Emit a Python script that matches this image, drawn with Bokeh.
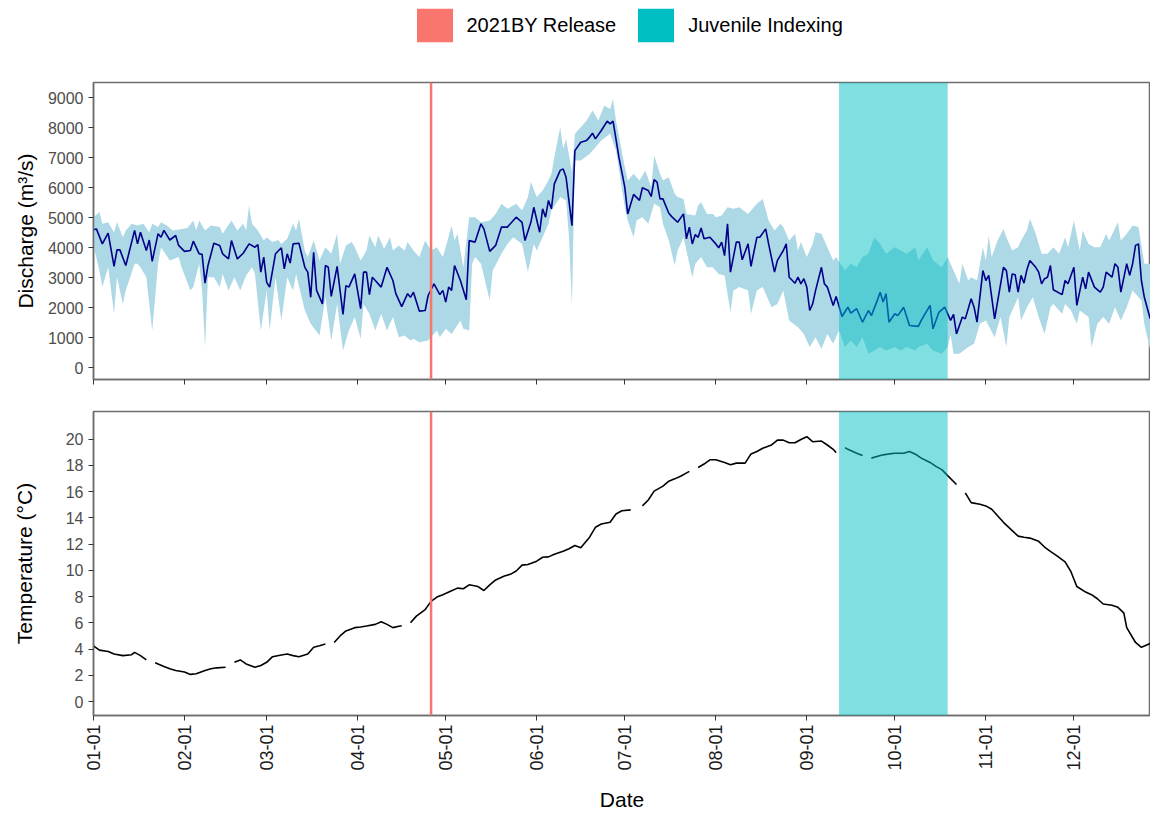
import numpy as np
import pandas as pd
from bokeh.plotting import figure
from bokeh.layouts import column
from bokeh.models import (Range1d, FixedTicker, DatetimeTickFormatter, Span,
                          BoxAnnotation, Legend, LegendItem)
from bokeh.embed import file_html
from bokeh.resources import INLINE

# ---------------- data ----------------
YEAR_START = "2022-01-01"
month_ticks = ["01-01", "02-01", "03-01", "04-01", "05-01", "06-01",
               "07-01", "08-01", "09-01", "10-01", "11-01", "12-01"]
release_date = "04-26"
index_start = "09-12"
index_end = "10-19"
legend_labels = ["2021BY Release", "Juvenile Indexing"]

# mean discharge (day of year offset from Jan 1, m3/s)
q_mean_day = [0, 1, 3, 5, 7, 8, 9, 11, 14, 15, 16, 18, 19, 20, 22, 23, 24, 26, 28, 29, 31, 33, 34, 36, 37, 38, 39,
              41, 43, 44, 46, 47, 49, 51, 53, 55, 56, 57, 58, 59, 60, 62, 64, 65, 66, 67, 68, 70, 72, 73, 74, 75,
              76, 78, 79, 80, 81, 83, 85, 86, 87, 89, 91, 92, 93, 94, 95, 96, 98, 100, 102, 103, 105, 107, 108,
              109, 111, 113, 114, 116, 118, 119, 120, 121, 122, 123, 125, 127, 128, 130, 132, 133, 135, 137, 139,
              141, 144, 146, 147, 149, 150, 152, 153, 154, 155, 156, 157, 159, 160, 161, 163, 164, 166, 168, 169,
              170, 171, 173, 175, 176, 177, 179, 181, 182, 184, 186, 187, 189, 190, 191, 192, 193, 194, 196, 197,
              199, 201, 202, 203, 204, 205, 206, 207, 208, 210, 212, 213, 214, 215, 216, 217, 219, 220, 221, 223,
              224, 226, 227, 229, 230, 232, 233, 235, 236, 237, 239, 240, 241, 242, 243, 244, 245, 246, 248, 249,
              250, 252, 253, 255, 257, 258, 260, 262, 264, 265, 267, 268, 269, 270, 271, 273, 274, 276, 278, 281,
              282, 285, 286, 288, 290, 292, 293, 294, 296, 297, 299, 300, 301, 303, 304, 305, 307, 310, 311, 312,
              313, 314, 315, 316, 317, 318, 319, 321, 322, 323, 324, 325, 326, 327, 330, 331, 332, 334, 335, 337,
              338, 339, 341, 343, 344, 345, 347, 348, 349, 350, 352, 353, 354, 355, 356, 357, 358, 360]
q_mean = [4590, 4620, 4120, 4480, 3370, 3920, 3920, 3400, 4570, 4120, 4510, 3900, 4250, 3540, 4460, 4340, 4570,
          4250, 4400, 4070, 3870, 3900, 4210, 3790, 3770, 2810, 3400, 4140, 4070, 3790, 3620, 4230, 3620, 3810,
          4120, 4010, 4100, 3180, 3680, 2840, 2680, 3790, 3990, 3290, 3790, 3480, 4120, 4140, 3340, 3180, 2340,
          3840, 2570, 2120, 3400, 3340, 2370, 3370, 1770, 2730, 2680, 3120, 1960, 3180, 3180, 2430, 3010, 2900,
          2680, 3340, 2900, 2460, 2030, 2460, 2340, 2510, 1880, 1900, 2400, 2790, 2430, 2570, 2180, 2680, 2570,
          3400, 2900, 2260, 4230, 4180, 4790, 4620, 3870, 4070, 4680, 4680, 5010, 4840, 4230, 4840, 5340, 4510,
          5290, 5010, 5570, 5290, 6120, 6570, 6620, 6340, 4730, 7230, 7510, 7570, 7680, 7810, 7620, 7900, 8210,
          8120, 8210, 7010, 6010, 5120, 5770, 5570, 5990, 5900, 5700, 6260, 6180, 5620, 5620, 5140, 5030, 4840,
          5120, 4290, 4680, 4120, 4430, 4340, 4650, 4290, 4340, 4120, 3990, 4180, 3730, 4790, 3180, 4180, 4180,
          3590, 4120, 3370, 4340, 4340, 4620, 4120, 3180, 3570, 3900, 4120, 3010, 2810, 3010, 2790, 2960, 2680,
          1900, 2120, 2570, 3340, 2790, 2680, 2070, 2370, 1700, 2010, 1810, 1960, 1510, 1900, 1730, 2230, 2510,
          2180, 2460, 1510, 1790, 1730, 2010, 1400, 1370, 1570, 2070, 1290, 1840, 2010, 1570, 1770, 1120, 1680,
          1620, 2290, 2010, 1510, 3230, 2900, 3070, 1620, 3340, 3230, 2510, 3120, 3090, 2510, 3070, 2810, 3260,
          3570, 3340, 3180, 2790, 2960, 3010, 3400, 2590, 2430, 2900, 2790, 3340, 2070, 3010, 2620, 3180, 2680,
          2510, 2680, 3180, 3010, 3460, 3340, 2510, 3460, 3070, 3460, 4070, 4120, 2900, 2340, 1620]

# upper edge of discharge band
q_hi_day = [0, 2, 3, 5, 7, 8, 10, 11, 13, 15, 17, 19, 20, 22, 23, 25, 27, 30, 32, 34, 35, 36, 38, 40, 43, 44, 47,
            49, 51, 52, 53, 54, 56, 58, 59, 61, 63, 64, 66, 68, 69, 70, 72, 73, 75, 77, 79, 81, 83, 84, 86, 88, 89,
            91, 93, 94, 96, 97, 99, 101, 102, 104, 106, 107, 109, 111, 113, 115, 117, 119, 120, 122, 123, 124, 126,
            128, 130, 132, 135, 137, 139, 141, 144, 146, 148, 149, 151, 153, 155, 156, 157, 159, 160, 161, 163,
            164, 166, 168, 170, 172, 174, 176, 177, 178, 181, 182, 184, 186, 188, 190, 191, 193, 194, 196, 198,
            199, 201, 202, 205, 206, 207, 209, 211, 212, 214, 216, 218, 220, 223, 224, 226, 228, 230, 232, 234,
            235, 237, 239, 240, 241, 243, 245, 246, 248, 250, 252, 253, 256, 258, 260, 262, 264, 266, 268, 270,
            273, 275, 277, 280, 281, 284, 286, 289, 291, 293, 295, 296, 298, 299, 301, 303, 304, 305, 306, 308,
            310, 311, 313, 315, 316, 318, 319, 321, 323, 325, 327, 329, 331, 332, 334, 336, 337, 339, 341, 343,
            345, 346, 349, 350, 352, 354, 356, 358, 360]
q_hi = [5010, 5180, 4790, 4840, 4510, 4840, 4340, 4570, 4790, 4730, 4790, 4510, 4790, 4680, 4840, 4730, 4570, 4620,
        4650, 4900, 4570, 4900, 4570, 4730, 4680, 4460, 4900, 4570, 4790, 4570, 5400, 4790, 4570, 4230, 4340, 4180,
        4250, 4120, 4290, 4790, 4570, 4960, 3900, 3680, 4230, 3570, 4010, 3790, 4460, 3460, 4070, 4180, 4010, 3570,
        3900, 4400, 4010, 4400, 3960, 4340, 3900, 4070, 3900, 4180, 3900, 3680, 4230, 3900, 4010, 3680, 4010, 4730,
        4230, 4460, 3340, 5010, 5010, 4840, 4900, 5120, 5460, 5290, 5460, 5230, 5680, 6180, 5680, 5900, 6230, 6460,
        7010, 8010, 7290, 7620, 6510, 7790, 8010, 8230, 8570, 8230, 8730, 8620, 8950, 8230, 6680, 6230, 6460, 6230,
        6570, 6010, 7070, 6460, 6230, 6340, 5790, 5680, 5620, 5120, 5070, 5400, 5510, 5120, 5120, 5010, 5070, 5340,
        5290, 5340, 5120, 5230, 5460, 5620, 4900, 4570, 4790, 4680, 4230, 4460, 3900, 4180, 3680, 4120, 4510, 4460,
        4010, 3570, 3680, 3230, 3460, 3340, 3680, 3790, 4340, 4120, 3790, 4010, 3900, 3790, 4010, 3570, 4010, 3570,
        3340, 3680, 3230, 2790, 3460, 2900, 3010, 2900, 4010, 3570, 4400, 3680, 4230, 4620, 4340, 3900, 4010, 4230,
        4570, 4960, 4460, 3790, 3790, 4010, 3790, 4340, 4010, 4900, 3900, 4570, 4120, 4010, 4010, 4460, 4230, 4840,
        4230, 4460, 4730, 4680, 3460, 3460]

# lower edge of discharge band
q_lo_day = [0, 2, 3, 5, 7, 8, 10, 11, 14, 15, 16, 18, 20, 22, 23, 26, 29, 30, 33, 34, 36, 37, 38, 39, 41, 43, 44,
            46, 48, 50, 52, 54, 55, 57, 59, 60, 62, 64, 66, 68, 69, 72, 74, 77, 79, 81, 83, 85, 87, 89, 91, 92, 94,
            96, 98, 100, 102, 104, 106, 108, 109, 111, 114, 117, 118, 120, 122, 125, 126, 128, 129, 130, 132, 135,
            136, 139, 141, 143, 146, 148, 150, 151, 153, 155, 156, 159, 161, 162, 163, 164, 166, 169, 171, 173,
            176, 178, 181, 182, 184, 185, 187, 189, 191, 193, 194, 196, 198, 199, 201, 202, 204, 205, 207, 209,
            211, 213, 215, 217, 218, 220, 223, 224, 226, 228, 231, 233, 235, 237, 240, 242, 244, 246, 248, 250,
            252, 254, 256, 258, 260, 262, 264, 266, 268, 270, 273, 275, 277, 280, 281, 284, 286, 289, 291, 292,
            293, 295, 298, 300, 302, 304, 307, 309, 311, 312, 315, 316, 318, 320, 322, 324, 326, 327, 330, 331,
            333, 335, 336, 339, 340, 342, 344, 346, 348, 350, 352, 354, 357, 358, 360]
q_lo = [4070, 3230, 2680, 3340, 1790, 3010, 2120, 2570, 3460, 3460, 3340, 3010, 1230, 3460, 4010, 3570, 3680, 3340,
        2570, 2680, 3460, 2570, 680, 3010, 3010, 2680, 3120, 2570, 3010, 2570, 3070, 3340, 3120, 1230, 2570, 1230,
        3010, 1570, 3010, 2570, 3120, 1900, 1460, 1070, 2340, 900, 2120, 570, 1230, 1680, 960, 2120, 1790, 1230,
        1790, 1230, 1680, 1010, 1070, 900, 960, 840, 900, 1230, 1010, 1290, 1120, 1570, 1290, 1230, 3460, 3680,
        3460, 2230, 3230, 3790, 4120, 4340, 4120, 3180, 4120, 3900, 4340, 4790, 5230, 5680, 5570, 4340, 2070, 6900,
        6900, 7120, 7340, 7570, 7790, 7230, 5340, 4900, 4340, 4900, 5010, 4790, 5460, 5340, 4790, 4230, 3400, 3900,
        4340, 3900, 3010, 3460, 3680, 3340, 3340, 3120, 3070, 1840, 2570, 2680, 2570, 1790, 2570, 2680, 2010, 2120,
        2570, 1570, 1340, 1120, 680, 1010, 620, 1120, 790, 1230, 680, 900, 680, 1010, 460, 570, 680, 570, 680, 570,
        680, 570, 680, 790, 570, 460, 680, 1100, 460, 460, 680, 790, 1460, 1570, 1010, 1680, 680, 1680, 2340, 1570,
        2010, 2340, 1680, 1120, 2010, 2120, 1790, 2120, 1900, 1460, 1900, 1680, 680, 1460, 1680, 1460, 2010, 1570,
        2010, 2570, 2230, 1460, 570]

# water temperature (NaN = missing record)
nan = float("nan")
t_day = [0, 2, 5, 7, 10, 13, 14, 16, 18, 20, 21, 24, 26, 28, 31, 33, 35, 38, 40, 42, 45, 46, 48, 50, 52, 55, 57,
         59, 61, 64, 66, 68, 70, 73, 75, 77, 79, 80, 82, 84, 86, 89, 91, 93, 96, 98, 100, 102, 104, 105, 106, 108,
         110, 113, 115, 117, 119, 122, 124, 126, 128, 131, 133, 135, 137, 140, 142, 144, 146, 148, 151, 153, 155,
         157, 160, 162, 164, 166, 169, 171, 173, 176, 178, 180, 183, 184, 187, 189, 191, 194, 196, 198, 200, 203,
         204, 206, 208, 210, 212, 215, 217, 219, 222, 224, 226, 228, 231, 233, 235, 237, 239, 241, 243, 245, 248,
         250, 252, 253, 254, 256, 257, 260, 262, 263, 265, 266, 269, 271, 273, 276, 278, 280, 282, 285, 287, 289,
         291, 294, 295, 297, 299, 302, 304, 306, 309, 310, 313, 315, 317, 319, 322, 324, 326, 328, 331, 333, 335,
         338, 340, 342, 344, 347, 349, 351, 352, 355, 357, 359, 360]
t_val = [4.26, 3.93, 3.83, 3.63, 3.51, 3.58, 3.76, 3.51, 3.18, nan, 2.96, 2.68, 2.51, 2.38, 2.26, 2.08, 2.13, 2.38,
         2.51, 2.58, 2.63, nan, 3.0, 3.18, 2.88, 2.63, 2.76, 3.0, 3.43, 3.56, 3.63, 3.51, 3.43, 3.63, 4.14, 4.26,
         4.39, nan, 4.51, 5.01, 5.39, 5.64, 5.69, 5.76, 5.89, 6.09, 5.89, 5.64, 5.74, 5.78, nan, 6.02, 6.52, 7.02,
         7.64, 7.97, 8.15, 8.45, 8.65, 8.60, 8.90, 8.77, 8.47, 8.90, 9.27, 9.57, 9.70, 9.95, 10.40, 10.45, 10.70,
         11.00, 11.03, 11.23, 11.45, 11.65, 11.90, 11.73, 12.53, 13.28, 13.53, 13.66, 14.29, 14.54, 14.61, nan,
         14.91, 15.36, 16.04, 16.42, 16.79, 16.97, 17.17, 17.54, nan, 17.84, 18.10, 18.42, 18.42, 18.22, 18.05,
         18.17, 18.17, 18.87, 19.05, 19.30, 19.55, 19.92, 19.92, 19.72, 19.72, 19.97, 20.18, 19.80, 19.85, 19.55,
         19.22, 18.97, nan, 19.35, 19.22, 18.92, 18.75, nan, 18.55, 18.62, 18.80, 18.87, 18.92, 18.92, 19.05, 18.85,
         18.55, 18.22, 17.92, 17.67, 17.22, 16.54, nan, 15.91, 15.16, 15.04, 14.91, 14.66, 13.91, 13.66, 13.03,
         12.61, 12.53, 12.46, 12.21, 11.78, 11.45, 11.15, 10.65, 9.90, 8.77, 8.35, 8.15, 7.84, 7.44, 7.34, 7.19,
         6.77, 5.64, 4.51, 4.14, 4.34, 4.44]

# ---------------- helpers ----------------
FONT = "Liberation Sans"
base = pd.Timestamp(YEAR_START)


def to_dt(days):
    return (base + pd.to_timedelta(np.asarray(days, dtype=float), unit="D")).values


def md_ms(md):
    return pd.Timestamp(f"{base.year}-{md}").value / 1e6


tick_ms = [md_ms(m) for m in month_ticks]
x_start = base.value / 1e6
x_end = (base + pd.Timedelta(days=360.1)).value / 1e6
x_range = Range1d(x_start, x_end)

REL_COLOR = "#F8766D"
IDX_COLOR = "#00BFC4"
FRAME = "#6E6E6E"
W = 1150
LEFT = 93


def style(p, ylabel, yticks, ystandoff):
    p.grid.visible = False
    p.outline_line_color = FRAME
    p.outline_line_width = 1.5
    p.background_fill_color = "white"
    p.border_fill_color = "white"
    for ax in (p.xaxis[0], p.yaxis[0]):
        ax.axis_line_color = FRAME
        ax.axis_line_width = 1.5
        ax.major_tick_line_color = "#333333"
        ax.major_tick_line_width = 1
        ax.major_tick_in = 0
        ax.major_tick_out = 5
        ax.minor_tick_line_color = None
        ax.major_label_text_font = FONT
        ax.major_label_text_font_size = "16px"
        ax.axis_label_text_font = FONT
        ax.axis_label_text_font_size = "21px"
        ax.axis_label_text_font_style = "normal"
        ax.axis_label_text_color = "black"
    p.yaxis.ticker = FixedTicker(ticks=yticks)
    p.yaxis.major_label_text_color = "#4D4D4D"
    p.yaxis.major_label_standoff = 5
    p.yaxis.axis_label = ylabel
    p.yaxis.axis_label_standoff = ystandoff
    p.xaxis.ticker = FixedTicker(ticks=tick_ms)
    p.xaxis.formatter = DatetimeTickFormatter(
        milliseconds="%m-%d", seconds="%m-%d", minsec="%m-%d", minutes="%m-%d",
        hourmin="%m-%d", hours="%m-%d", days="%m-%d", months="%m-%d", years="%m-%d")
    band = BoxAnnotation(left=md_ms(index_start), right=md_ms(index_end),
                         fill_color=IDX_COLOR, fill_alpha=0.5, line_color=None)
    p.add_layout(band)
    p.add_layout(Span(location=md_ms(release_date), dimension="height",
                      line_color=REL_COLOR, line_width=2.5))


# ---------------- legend row ----------------
leg = figure(width=W, height=80, toolbar_location=None, output_backend="svg",
             x_range=Range1d(0, 1), y_range=Range1d(0, 1),
             x_axis_location=None, y_axis_location=None,
             min_border_left=LEFT, min_border_right=0, min_border_top=0, min_border_bottom=0)
leg.grid.visible = False
leg.outline_line_color = None
# legend proxies only (NaN geometry -> nothing drawn in the frame)
r_rel = leg.quad(left=[nan], right=[nan], top=[nan], bottom=[nan], fill_color=REL_COLOR, line_color=None)
r_idx = leg.quad(left=[nan], right=[nan], top=[nan], bottom=[nan], fill_color=IDX_COLOR, line_color=None)
legend = Legend(items=[LegendItem(label=legend_labels[0], renderers=[r_rel]),
                       LegendItem(label=legend_labels[1], renderers=[r_idx])],
                location=(416 - 4.5 - LEFT, 34), orientation="horizontal",
                glyph_width=45, glyph_height=42, label_standoff=10, spacing=17,
                padding=0, margin=0, border_line_color=None, background_fill_alpha=0,
                label_text_font=FONT, label_text_font_size="20px", label_text_color="black")
leg.add_layout(legend)

# ---------------- discharge panel ----------------
p1 = figure(width=W, height=315, x_range=x_range, y_range=Range1d(-400, 9500),
            x_axis_type="datetime", toolbar_location=None, output_backend="svg",
            min_border_left=LEFT, min_border_right=0, min_border_top=2, min_border_bottom=16)
rib_x = np.concatenate([to_dt(q_hi_day), to_dt(q_lo_day)[::-1]])
rib_y = np.concatenate([np.asarray(q_hi, float), np.asarray(q_lo, float)[::-1]])
p1.patch(rib_x, rib_y, fill_color="#ADD8E6", line_color=None)
p1.line(to_dt(q_mean_day), q_mean, line_color="#00008B", line_width=1.6)
style(p1, "Discharge (m³/s)", list(range(0, 9001, 1000)), 8)
p1.xaxis.major_label_text_font_size = "0px"
p1.xaxis.major_label_text_color = None
p1.xaxis.major_label_standoff = 0

# ---------------- temperature panel ----------------
p2 = figure(width=W, height=418, x_range=x_range, y_range=Range1d(-1.05, 22.1),
            x_axis_type="datetime", toolbar_location=None, output_backend="svg",
            min_border_left=LEFT, min_border_right=0, min_border_top=16, min_border_bottom=94)
p2.line(to_dt(t_day), t_val, line_color="black", line_width=1.6)
style(p2, "Temperature (°C)", list(range(0, 21, 2)), 27)
p2.xaxis.major_label_orientation = np.pi / 2
p2.xaxis.major_label_text_color = "#1A1A1A"
p2.xaxis.major_label_text_font_size = "18px"
p2.xaxis.major_label_standoff = 4
p2.xaxis.axis_label = "Date"
p2.xaxis.axis_label_standoff = 14

layout = column(leg, p1, p2, spacing=0)
open("out.html", "w").write(file_html(layout, INLINE))
